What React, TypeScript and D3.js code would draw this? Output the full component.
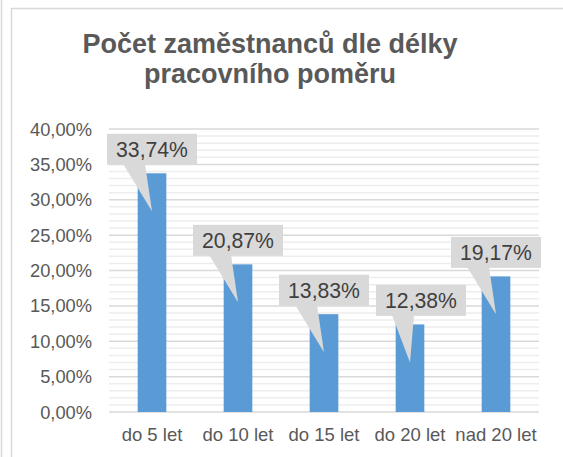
import React, { useEffect, useRef } from "react";
import * as d3 from "d3";

// chart data
const categories = ["do 5 let", "do 10 let", "do 15 let", "do 20 let", "nad 20 let"];
const shares = [0.3374, 0.2087, 0.1383, 0.1238, 0.1917];
const yTicks = [0, 0.05, 0.1, 0.15, 0.2, 0.25, 0.3, 0.35, 0.4];
const titleLines = ["Počet zaměstnanců dle délky", "pracovního poměru"];

// callout nudges (px), Excel moved the 4th one sideways
const labelShift = [0, 0, 0, 11, 0];

const fmt = (v: number) => (v * 100).toFixed(2).replace(".", ",") + "%";

export default function App() {
  const ref = useRef<SVGSVGElement>(null);

  useEffect(() => {
    const W = 563,
      H = 457;
    const margin = { top: 129, right: 24, bottom: 45, left: 109 };
    const svg = d3.select(ref.current).attr("width", W).attr("height", H);
    svg.selectAll("*").remove();

    const font = "'Liberation Sans', Arial, sans-serif";

    // outer frame
    svg
      .append("line")
      .attr("x1", 1.5)
      .attr("x2", 1.5)
      .attr("y1", 0)
      .attr("y2", H)
      .attr("stroke", "#d9d9d9")
      .attr("stroke-width", 1.5);
    svg
      .append("path")
      .attr("d", `M11.5,${H} V8.5 H${W}`)
      .attr("fill", "none")
      .attr("stroke", "#d9d9d9")
      .attr("stroke-width", 1.5);

    const x = d3
      .scaleBand()
      .domain(categories)
      .range([margin.left, W - margin.right])
      .padding(0);
    const y = d3
      .scaleLinear()
      .domain([0, 0.4])
      .range([H - margin.bottom, margin.top]);

    // minor gridlines every 1 %
    const minor = d3.range(1, 40).filter((i) => i % 5 !== 0).map((i) => i / 100);
    svg
      .selectAll(".minor")
      .data(minor)
      .join("line")
      .attr("class", "minor")
      .attr("x1", margin.left)
      .attr("x2", W - margin.right)
      .attr("y1", (d) => y(d))
      .attr("y2", (d) => y(d))
      .attr("stroke", "#ededed")
      .attr("stroke-width", 1.5);

    svg
      .selectAll(".major")
      .data(yTicks)
      .join("line")
      .attr("class", "major")
      .attr("x1", margin.left)
      .attr("x2", W - margin.right)
      .attr("y1", (d) => y(d))
      .attr("y2", (d) => y(d))
      .attr("stroke", "#d9d9d9")
      .attr("stroke-width", 1.5);

    // y labels
    svg
      .selectAll(".ylab")
      .data(yTicks)
      .join("text")
      .attr("class", "ylab")
      .attr("x", 92)
      .attr("y", (d) => y(d) + 6.5)
      .attr("text-anchor", "end")
      .style("font-family", font)
      .style("font-size", "18.3px")
      .style("fill", "#595959")
      .text((d) => fmt(d));

    // x labels
    svg
      .selectAll(".xlab")
      .data(categories)
      .join("text")
      .attr("class", "xlab")
      .attr("x", (d) => x(d)! + x.bandwidth() / 2)
      .attr("y", 441)
      .attr("text-anchor", "middle")
      .style("font-family", font)
      .style("font-size", "18.5px")
      .style("fill", "#595959")
      .text((d) => d);

    // bars
    const bw = x.bandwidth() / 3;
    svg
      .selectAll(".bar")
      .data(shares)
      .join("rect")
      .attr("class", "bar")
      .attr("x", (d, i) => x(categories[i])! + x.bandwidth() / 2 - bw / 2)
      .attr("y", (d) => y(d))
      .attr("width", bw)
      .attr("height", (d) => y(0) - y(d))
      .attr("fill", "#5b9bd5");

    // callout labels
    const boxW = 90,
      boxH = 31;
    const g = svg
      .selectAll(".callout")
      .data(shares)
      .join("g")
      .attr("class", "callout");

    g.each(function (d, i) {
      const cx = x(categories[i])! + x.bandwidth() / 2;
      const top = y(d);
      const left = cx - boxW / 2 + labelShift[i];
      const bottom = top - 8.5;
      const sel = d3.select(this);
      sel
        .append("path")
        .attr(
          "d",
          `M${left + 16},${bottom - 1} L${left + 38},${bottom - 1} L${cx},${top + 38} Z`
        )
        .attr("fill", "#d9d9d9");
      sel
        .append("rect")
        .attr("x", left)
        .attr("y", bottom - boxH)
        .attr("width", boxW)
        .attr("height", boxH)
        .attr("fill", "#d9d9d9");
      sel
        .append("text")
        .attr("x", left + boxW / 2)
        .attr("y", bottom - boxH / 2 + 7.5)
        .attr("text-anchor", "middle")
        .style("font-family", font)
        .style("font-size", "21.2px")
        .style("fill", "#404040")
        .text(fmt(d));
    });

    // title
    svg
      .selectAll(".title")
      .data(titleLines)
      .join("text")
      .attr("class", "title")
      .attr("x", 270)
      .attr("y", (d, i) => 53 + i * 29.5)
      .attr("text-anchor", "middle")
      .style("font-family", font)
      .style("font-size", "27px")
      .style("font-weight", "bold")
      .style("fill", "#595959")
      .text((d) => d);
  }, []);

  return (
    <svg
      ref={ref}
      style={{ position: "absolute", left: 0, top: 0, background: "#fff" }}
    ></svg>
  );
}
